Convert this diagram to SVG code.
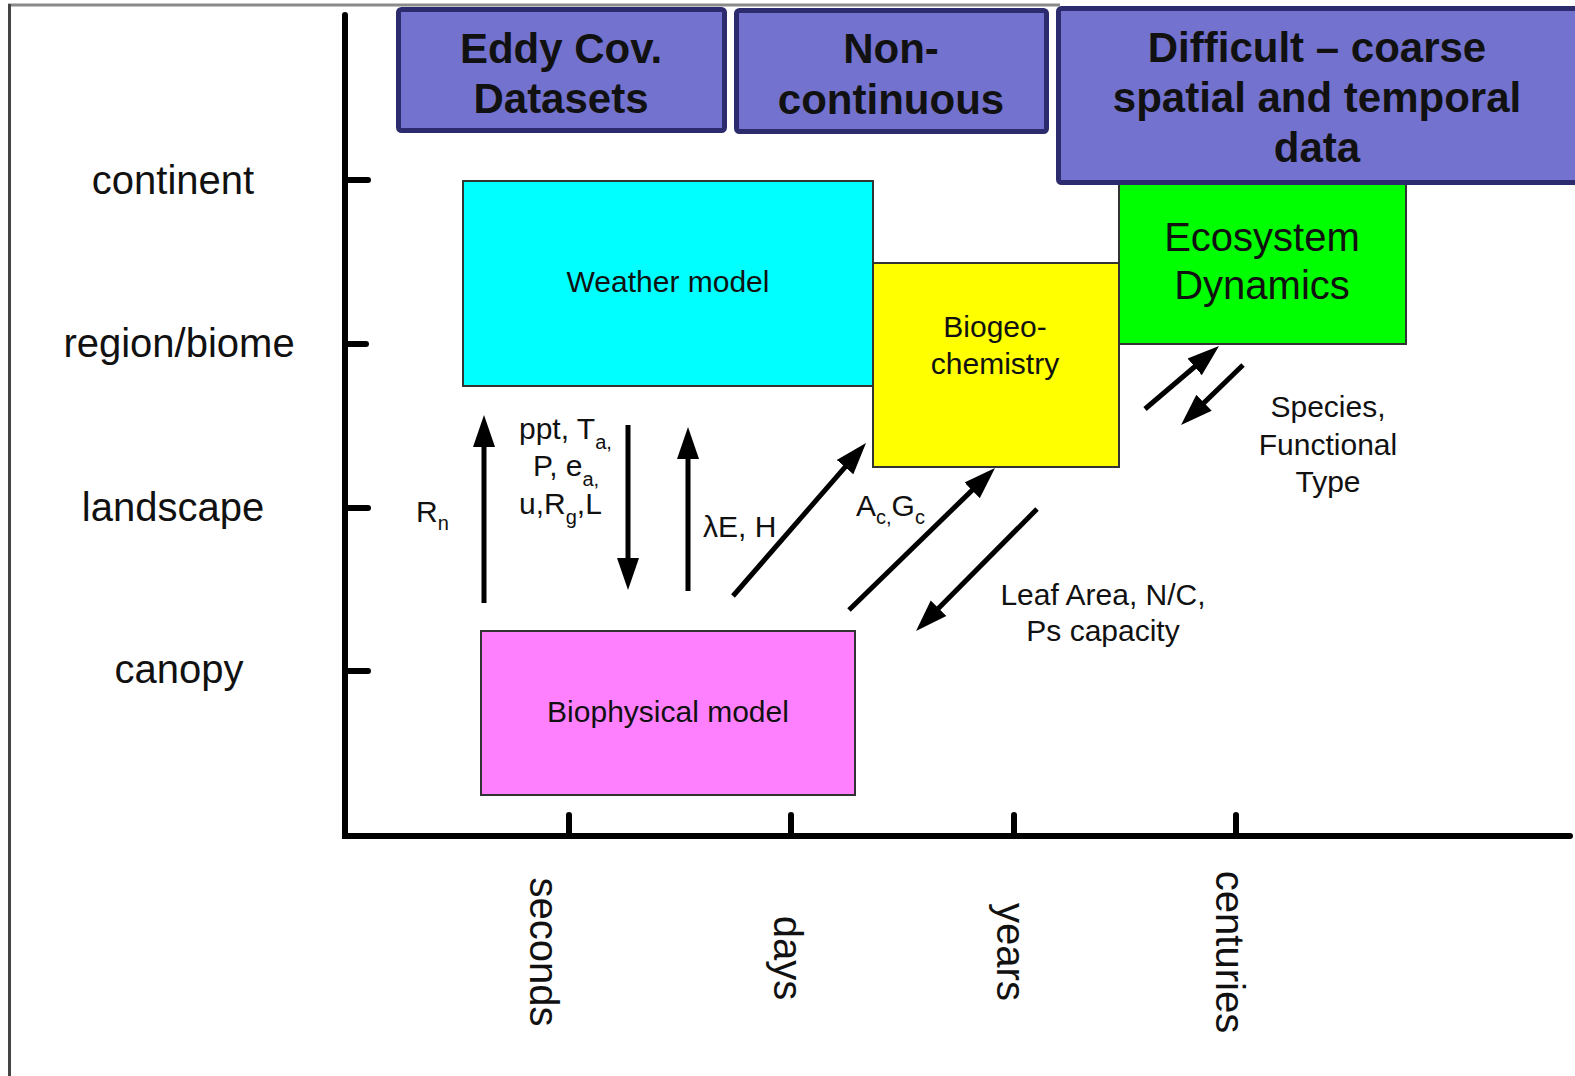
<svg xmlns="http://www.w3.org/2000/svg" width="1575" height="1076" viewBox="0 0 1575 1076">
  <style>
    text { font-family: "Liberation Sans", Arial, sans-serif; fill: #111; }
    .hdr { font-size: 42px; font-weight: bold; text-anchor: middle; }
    .hbox { fill: #7373cf; stroke: #2b2b6e; stroke-width: 5; }
    .model { stroke: #333; stroke-width: 2; }
    .lbl { font-size: 30px; text-anchor: middle; }
    .axl { font-size: 40px; text-anchor: middle; }
    .flow { font-size: 30px; }
    .sub { font-size: 20px; }
    .axis { stroke: #000; stroke-width: 6; stroke-linecap: round; fill: none; }
    .arr { stroke: #000; stroke-width: 5; fill: none; marker-end: url(#head); }
  </style>
  <defs>
    <marker id="head" markerUnits="userSpaceOnUse" markerWidth="32" markerHeight="24" viewBox="0 0 32 24" refX="12" refY="12" orient="auto">
      <path d="M0,1 L32,12 L0,23 z" fill="#000"/>
    </marker>
  </defs>

  <rect width="1575" height="1076" fill="#fff"/>

  <!-- outer frame -->
  <g id="frame">
    <line x1="8" y1="5" x2="1060" y2="5" stroke="#8a8a8a" stroke-width="3"/>
    <line x1="9.5" y1="4" x2="9.5" y2="1076" stroke="#444" stroke-width="3"/>
  </g>

  <!-- axes and ticks -->
  <g id="axes">
    <path class="axis" d="M345,15 V836 H1570"/>
    <path class="axis" d="M345,180 H368 M345,344 H366 M345,508 H368 M345,671 H368"/>
    <path class="axis" d="M569,815 V836 M791,815 V836 M1014,815 V836 M1236,815 V836"/>
  </g>

  <g id="scale-labels">
    <text class="axl" x="173" y="194">continent</text>
    <text class="axl" x="179" y="357">region/biome</text>
    <text class="axl" x="173" y="521">landscape</text>
    <text class="axl" x="179" y="683">canopy</text>
  </g>

  <g id="time-labels">
    <text class="axl" transform="translate(530,952) rotate(90)">seconds</text>
    <text class="axl" transform="translate(774,958) rotate(90)">days</text>
    <text class="axl" transform="translate(997,952) rotate(90)">years</text>
    <text class="axl" transform="translate(1216,952) rotate(90)">centuries</text>
  </g>

  <!-- data availability headers -->
  <g id="hdr-eddy">
    <rect class="hbox" x="398.5" y="9.5" width="326" height="121" rx="3"/>
    <text class="hdr" x="561" y="63">Eddy Cov.</text>
    <text class="hdr" x="561" y="113">Datasets</text>
  </g>
  <g id="hdr-noncont">
    <rect class="hbox" x="736.5" y="10.5" width="310" height="121" rx="3"/>
    <text class="hdr" x="891" y="63">Non-</text>
    <text class="hdr" x="891" y="114">continuous</text>
  </g>

  <!-- model boxes -->
  <g id="weather">
    <rect class="model" x="463" y="181" width="410" height="205" fill="#00ffff"/>
    <text class="lbl" x="668" y="292">Weather model</text>
  </g>
  <g id="biogeo">
    <rect class="model" x="873" y="263" width="246" height="204" fill="#ffff00"/>
    <text class="lbl" x="995" y="337">Biogeo-</text>
    <text class="lbl" x="995" y="374">chemistry</text>
  </g>
  <g id="ecodyn">
    <rect class="model" x="1119" y="180" width="287" height="164" fill="#00ff00"/>
    <text class="axl" x="1262" y="251">Ecosystem</text>
    <text class="axl" x="1262" y="299">Dynamics</text>
  </g>
  <g id="hdr-difficult">
    <rect class="hbox" x="1058.5" y="8.5" width="530" height="174" rx="3"/>
    <text class="hdr" x="1317" y="62">Difficult – coarse</text>
    <text class="hdr" x="1317" y="112">spatial and temporal</text>
    <text class="hdr" x="1317" y="162">data</text>
  </g>
  <g id="biophys">
    <rect class="model" x="481" y="631" width="374" height="164" fill="#ff80ff"/>
    <text class="lbl" x="668" y="722">Biophysical model</text>
  </g>

  <!-- exchanges between models -->
  <g id="connectors">
    <line class="arr" x1="484" y1="603" x2="484" y2="435"/>
    <line class="arr" x1="628" y1="425" x2="628" y2="570"/>
    <line class="arr" x1="688" y1="591" x2="688" y2="447"/>
    <line class="arr" x1="733" y1="596" x2="852.9" y2="458.1"/>
    <line class="arr" x1="849" y1="610" x2="980.7" y2="481.9"/>
    <line class="arr" x1="1037" y1="509" x2="930.1" y2="616.8"/>
    <line class="arr" x1="1145" y1="409" x2="1203.8" y2="359"/>
    <line class="arr" x1="1243" y1="365" x2="1195.4" y2="411.1"/>
  </g>

  <g id="flow-labels">
    <text class="flow" x="416" y="522">R<tspan class="sub" dy="8">n</tspan></text>
    <text class="flow" x="519" y="439">ppt, T<tspan class="sub" dy="10">a,</tspan></text>
    <text class="flow" x="533" y="476">P, e<tspan class="sub" dy="10">a,</tspan></text>
    <text class="flow" x="519" y="514">u,R<tspan class="sub" dy="10">g</tspan><tspan dy="-10">,L</tspan></text>
    <text class="flow" x="703" y="537">λE, H</text>
    <text class="flow" x="856" y="516">A<tspan class="sub" dy="8">c,</tspan><tspan dy="-8">G</tspan><tspan class="sub" dy="8">c</tspan></text>
    <text class="flow" x="1103" y="605" text-anchor="middle">Leaf Area, N/C,</text>
    <text class="flow" x="1103" y="641" text-anchor="middle">Ps capacity</text>
    <text class="flow" x="1328" y="417" text-anchor="middle">Species,</text>
    <text class="flow" x="1328" y="455" text-anchor="middle">Functional</text>
    <text class="flow" x="1328" y="492" text-anchor="middle">Type</text>
  </g>
</svg>
